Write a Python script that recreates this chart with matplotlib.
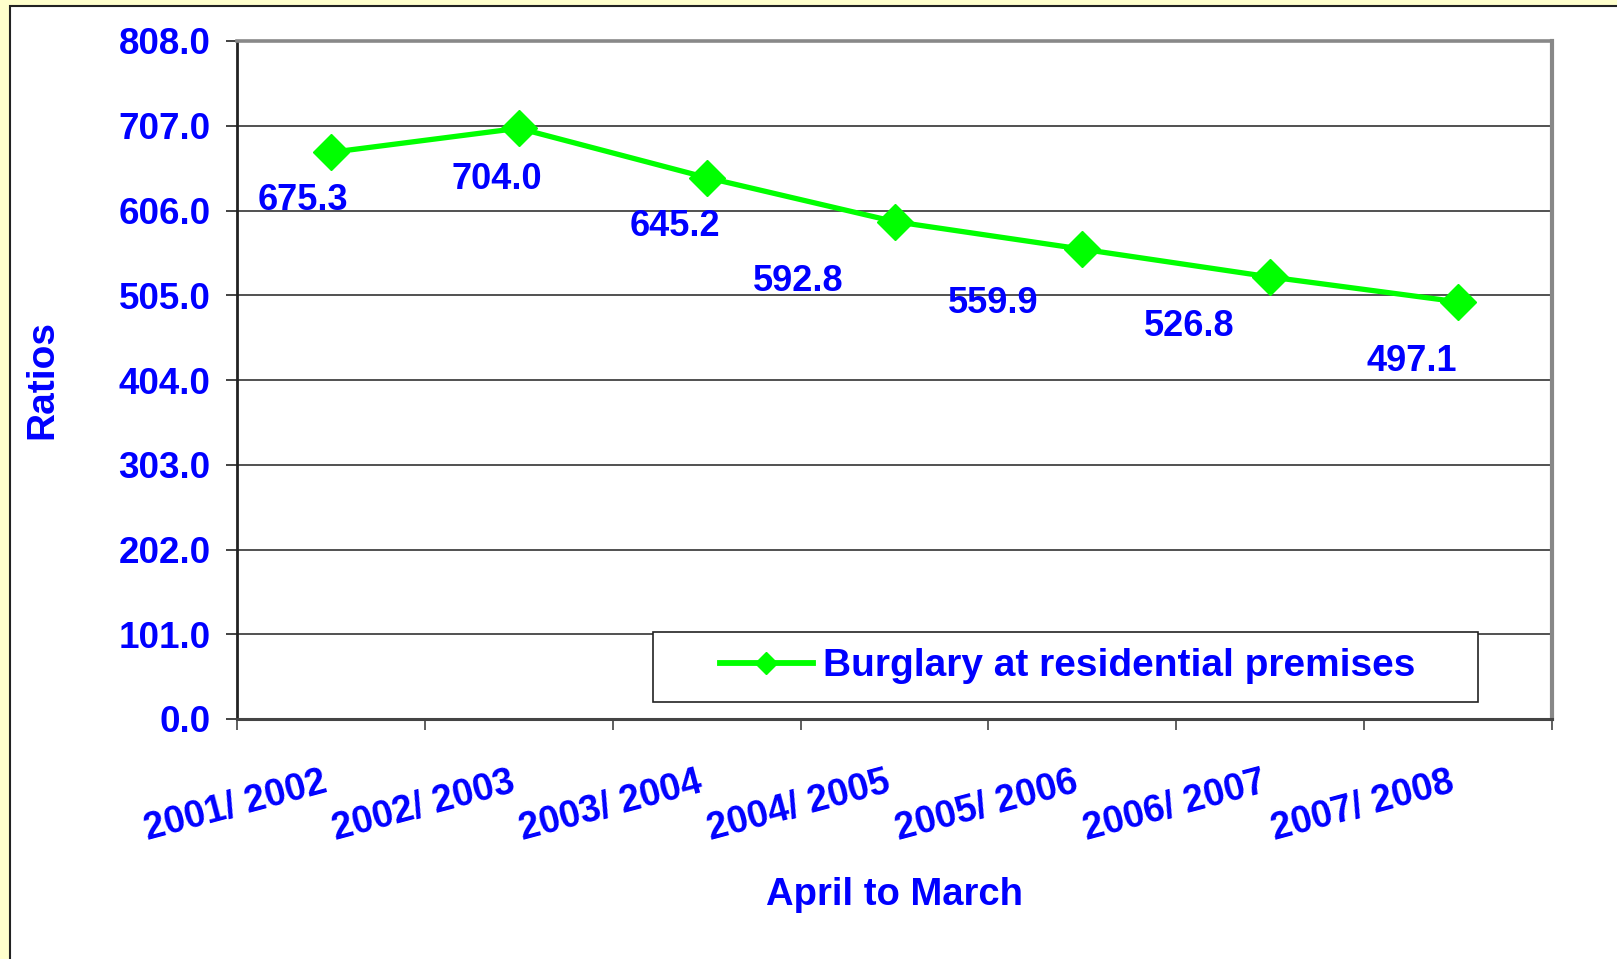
import numpy as np
import matplotlib.pyplot as plt
import matplotlib.transforms as mtransforms
from matplotlib.patches import Rectangle

years = ['2001/ 2002', '2002/ 2003', '2003/ 2004', '2004/ 2005',
         '2005/ 2006', '2006/ 2007', '2007/ 2008']
ratios = [675.3, 704.0, 645.2, 592.8, 559.9, 526.8, 497.1]
y_ticks = [0, 101, 202, 303, 404, 505, 606, 707, 808]

# label offsets in points (placement only)
label_off = [(-20, -35), (-16, -37), (-23, -35), (-69, -43),
             (-64, -39), (-58, -36), (-33, -43)]

blue = '#0000FF'
green = '#00FF00'
plt.rcParams['font.family'] = ['Liberation Sans', 'DejaVu Sans']
plt.rcParams['font.weight'] = 'bold'

W, H = 1617, 959
fig = plt.figure(figsize=(W / 100, H / 100), dpi=100, facecolor='#FFFFCC')

# white chart panel with dark border
panel = Rectangle((10 / W, -0.01), 1.02, 1 - 6 / H + 0.01,
                  transform=fig.transFigure, facecolor='white',
                  edgecolor='#222222', linewidth=1.5, zorder=-10)
fig.add_artist(panel)

ax = fig.add_axes([237 / W, 1 - 719 / H, 1315 / W, 678 / H])
x = np.arange(len(years))

ax.plot(x, ratios, color=green, linewidth=3.8, marker='D', markersize=18,
        label='Burglary at residential premises', zorder=3, clip_on=False)

for xi, v, off in zip(x, ratios, label_off):
    ax.annotate(f'{v:.1f}', (xi, v), xytext=off, textcoords='offset points',
                ha='center', va='center', color=blue, fontsize=26,
                fontweight='bold')

ax.set_ylim(0, 808)
ax.set_yticks(y_ticks)
ax.set_yticklabels([f'{t:.1f}' for t in y_ticks])
ax.set_xlim(-0.5, len(years) - 0.5)
ax.set_xticks(np.arange(len(years) + 1) - 0.5)
ax.set_xticklabels([])
ax.set_xticks(x, minor=True)
ax.set_xticklabels(years, minor=True, rotation=15, ha='right', va='top',
                   rotation_mode='anchor')

ax.tick_params(axis='y', which='major', length=8, width=1.2, pad=11,
               labelsize=26.5, labelcolor=blue, color='#222222')
ax.tick_params(axis='x', which='major', length=8, width=1.2,
               color='#444444')
ax.tick_params(axis='x', which='minor', length=0, pad=33,
               labelsize=27, labelcolor=blue)
shift = mtransforms.ScaledTranslation(-7 / 72, 0, fig.dpi_scale_trans)
for lab in ax.get_xticklabels(minor=True):
    lab.set_fontweight('bold')
    lab.set_transform(lab.get_transform() + shift)
for lab in ax.get_yticklabels():
    lab.set_fontweight('bold')

ax.grid(axis='y', color='#222222', linewidth=1.1)
ax.set_axisbelow(True)
ax.spines['left'].set_color('#222222')
ax.spines['left'].set_linewidth(2)
ax.spines['bottom'].set_color('#444444')
ax.spines['bottom'].set_linewidth(2.2)
ax.spines['top'].set_color('#888888')
ax.spines['top'].set_linewidth(2.6)
ax.spines['right'].set_color('#888888')
ax.spines['right'].set_linewidth(3)

# legend box
ax.add_patch(Rectangle((0.316, 0.025), 0.628, 0.103, transform=ax.transAxes,
                       facecolor='white', edgecolor='#222222', linewidth=1.2,
                       zorder=4))
leg = ax.legend(loc='center left', bbox_to_anchor=(0.367, 0.078),
                frameon=False, fontsize=28, handlelength=2.4,
                handletextpad=0.27, borderpad=0, borderaxespad=0,
                markerscale=0.6)
leg.set_zorder(5)
for t in leg.get_texts():
    t.set_color(blue)
    t.set_fontweight('bold')
for h in leg.legend_handles:
    h.set_linewidth(4.2)

fig.text(42 / W, 1 - 379 / H, 'Ratios', rotation=90, ha='center', va='center',
         color=blue, fontsize=28, fontweight='bold')
fig.text(894 / W, 1 - 895 / H, 'April to March', ha='center', va='center',
         color=blue, fontsize=27.5, fontweight='bold')

fig.savefig('out.png', dpi=100, facecolor=fig.get_facecolor())
